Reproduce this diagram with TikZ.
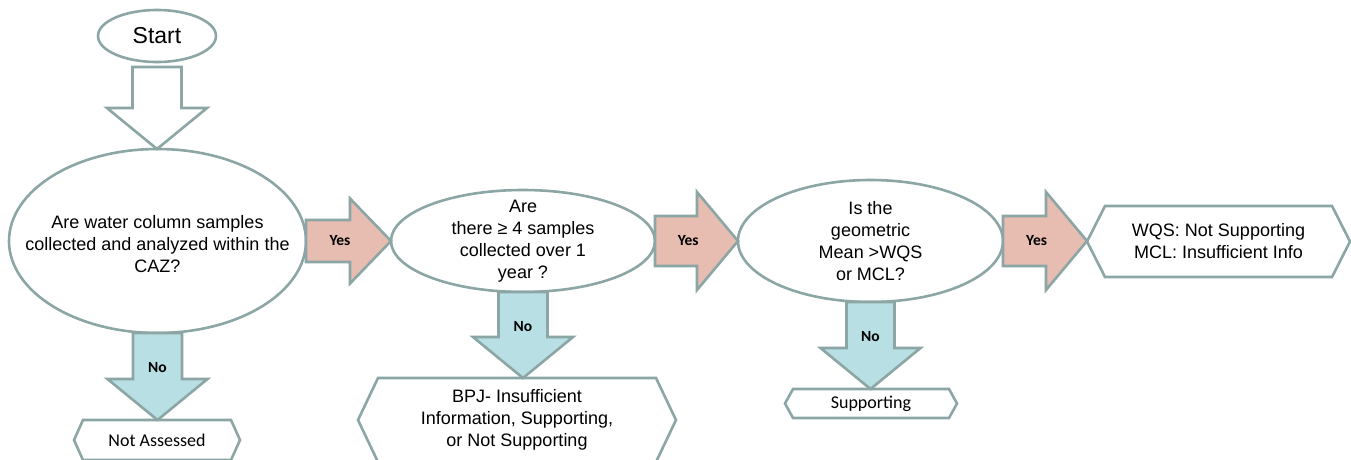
\documentclass[tikz,border=0pt]{standalone}
\usepackage{fontspec}
\setmainfont{Liberation Sans}
\newfontfamily\calibri{Carlito}
\usetikzlibrary{shapes.geometric,calc}

\definecolor{edgegray}{RGB}{140,165,165}
\definecolor{yespink}{RGB}{232,189,177}
\definecolor{nocyan}{RGB}{184,223,227}

\tikzset{
  every node/.style={outer sep=0pt},
  question/.style={ellipse, draw=edgegray, line width=2.6pt, inner sep=0pt},
  qtext/.style={align=center, inner sep=0pt, font=\fontsize{18}{22}\selectfont},
  outcome/.style={rectangle, inner sep=0pt, align=center, font=\fontsize{18}{22}\selectfont},
  smalloutcome/.style={outcome, font=\calibri\fontsize{18}{20}\selectfont},
  hexline/.style={draw=edgegray, line width=2.6pt},
  blockarrow/.style={draw=edgegray, line width=2.6pt},
  yesarrow/.style={blockarrow, fill=yespink},
  noarrow/.style={blockarrow, fill=nocyan},
  plainarrow/.style={blockarrow, fill=white},
  arrowlabel/.style={inner sep=0pt, font=\calibri\bfseries\fontsize{15.5}{15}\selectfont},
}

% block arrow pointing down: style, from, to, label, shaft half width, head half width
\newcommand{\downblock}[6]{%
  \draw[#1] let \p1=(#2), \p2=(#2|-#3) in
    (\x1-#5,\y1) -- (\x1+#5,\y1) -- (\x1+#5,\y2+41pt) -- (\x1+#6,\y2+41pt)
    -- (\p2) -- (\x1-#6,\y2+41pt) -- (\x1-#5,\y2+41pt) -- cycle;
  \node[arrowlabel] at ($(#2)!0.4!(#2|-#3)$) {#4};
}
% block arrow pointing right
\newcommand{\rightblock}[6]{%
  \draw[#1] let \p1=(#2), \p2=(#2-|#3) in
    (\x1,\y1+#5) -- (\x2-41pt,\y1+#5) -- (\x2-41pt,\y1+#6) -- (\p2)
    -- (\x2-41pt,\y1-#6) -- (\x2-41pt,\y1-#5) -- (\x1,\y1-#5) -- cycle;
  \node[arrowlabel] at ($(#2)!0.4!(#2-|#3)$) {#4};
}
% pointed box round an outcome node: name, point depth
\newcommand{\hexbox}[2]{%
  \draw[hexline] (#1.west) -- ([xshift=#2]#1.north west) -- ([xshift=-#2]#1.north east)
    -- (#1.east) -- ([xshift=-#2]#1.south east) -- ([xshift=#2]#1.south west) -- cycle;
}

\begin{document}
\begin{tikzpicture}[x=1pt,y=-1pt]
\useasboundingbox (0,0) rectangle (1351,459);

% questions
\node[question, minimum width=118pt, minimum height=52pt, font=\fontsize{23}{28}\selectfont] (start) at (157,36) {Start};
\node[question, minimum width=297pt, minimum height=184pt] (q1) at (157.5,241) {};
\node[qtext, yshift=-3pt] (q1text) at (q1) {Are water column samples\\collected and analyzed within the\\CAZ?};
\node[question, minimum width=264pt, minimum height=102pt] (q2) at (523,241) {};
\node[qtext] (q2text) at (q2) {Are\\there ≥ 4 samples\\collected over 1\\year ?};
\node[question, minimum width=265pt, minimum height=122pt] (q3) at (870.5,241) {};
\node[qtext] (q3text) at (q3) {Is the\\geometric\\Mean >WQS\\or MCL?};

% outcomes
\node[smalloutcome, minimum width=166pt, minimum height=40pt] (na) at (157,440) {Not Assessed};
\node[outcome, minimum width=318pt, minimum height=84pt] (bpj) at (517,420) {BPJ- Insufficient\\Information, Supporting,\\or Not Supporting};
\node[smalloutcome, minimum width=172pt, minimum height=29pt] (sup) at (871,403.5) {Supporting};
\node[outcome, minimum width=263pt, minimum height=71pt] (wqs) at (1218.5,241.5) {WQS: Not Supporting\\MCL: Insufficient Info};
\hexbox{na}{9pt}
\hexbox{bpj}{20pt}
\hexbox{sup}{8pt}
\hexbox{wqs}{18pt}

% arrows
\coordinate (startbase) at ([yshift=-5pt]start.south);
\downblock{plainarrow}{startbase}{q1.north}{}{24.5pt}{50pt}
\downblock{noarrow}{q1.south}{na.north}{No}{24.5pt}{50pt}
\downblock{noarrow}{q2.south}{bpj.north}{No}{24.5pt}{50pt}
\downblock{noarrow}{q3.south}{sup.north}{No}{24pt}{50pt}
\rightblock{yesarrow}{q1.east}{q2.west}{Yes}{21pt}{42.5pt}
\rightblock{yesarrow}{q2.east}{q3.west}{Yes}{25pt}{49pt}
\rightblock{yesarrow}{q3.east}{wqs.west}{Yes}{25pt}{49pt}
\end{tikzpicture}
\end{document}
